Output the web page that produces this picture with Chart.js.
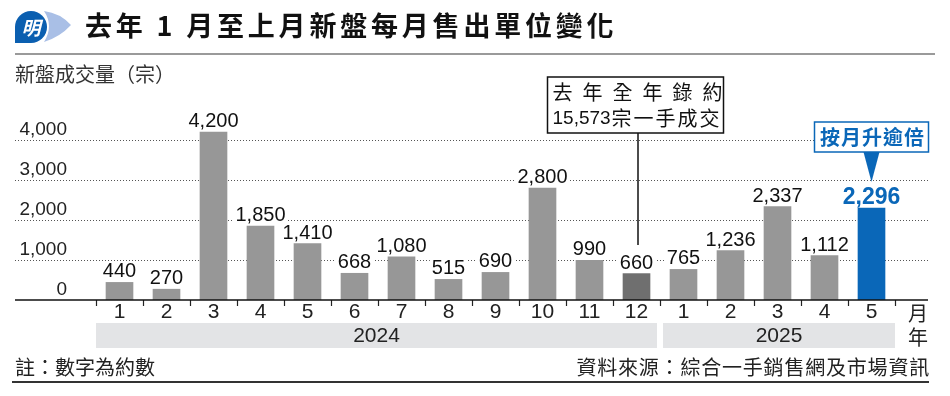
<!DOCTYPE html>
<html>
<head>
<meta charset="utf-8">
<script src="https://cdn.jsdelivr.net/npm/chart.js@4.4.1/dist/chart.umd.min.js"></script>
<style>
  html, body { margin: 0; padding: 0; background: #fff; }
  #wrap { position: relative; width: 950px; height: 396px; overflow: hidden; font-family: "Noto Sans CJK TC", sans-serif; }
  #salesChart { position: absolute; left: 0; top: 0; }
  .logo { position: absolute; left: 13px; top: 8px; }
  .title { position: absolute; left: 85px; top: 7px; font-size: 27px; font-weight: 700; letter-spacing: 3.8px; line-height: 36px; color: #111; white-space: nowrap; }
  .rule { position: absolute; left: 15px; top: 53px; width: 920px; height: 2px; background: #9a9a9a; }
  .unit { position: absolute; left: 15px; top: 62px; font-size: 20px; line-height: 24px; color: #333; }
  .note, .src { position: absolute; top: 355px; font-size: 20px; line-height: 24px; color: #222; white-space: nowrap; }
  .note { left: 15px; }
  .src { right: 20px; letter-spacing: 0.8px; }
  .foot { position: absolute; left: 12px; top: 381px; width: 917px; height: 2px; background: #333; }
</style>
</head>
<body>
<div id="wrap">
  <canvas id="salesChart" width="950" height="396"></canvas>
  <svg class="logo" width="66" height="40" viewBox="0 0 66 40">
    <path d="M31 3 Q47 5 58 17 Q47 29 31 34 Q41 18 31 3 Z" fill="#a9bfe6"/>
    <path d="M2 35 L2 19 A16 16 0 1 1 18 35 Z" fill="#0b5fb0"/>
    <text x="18" y="27" fill="#fff" font-size="19" font-weight="700" font-style="italic" text-anchor="middle" font-family="Noto Sans CJK TC">明</text>
  </svg>
  <div class="title">去年 1 月至上月新盤每月售出單位變化</div>
  <div class="rule"></div>
  <div class="unit">新盤成交量（宗）</div>
  <div class="note">註：數字為約數</div>
  <div class="src">資料來源：綜合一手銷售網及市場資訊</div>
  <div class="foot"></div>
</div>
<script>
  const months = ['1', '2', '3', '4', '5', '6', '7', '8', '9', '10', '11', '12', '1', '2', '3', '4', '5'];
  const sales = [440, 270, 4200, 1850, 1410, 668, 1080, 515, 690, 2800, 990, 660, 765, 1236, 2337, 1112, 2296];
  const yearLabels = ['2024', '2025'];
  const yearMonthCounts = [12, 5];
  const yTicks = [0, 1000, 2000, 3000, 4000];
  const yearTotalNote = ['去年全年錄約', '15,573', '宗一手成交'];
  const highlightNote = '按月升逾倍';

  const GRAY = '#979797';
  const DARK = '#6f6f6f';
  const BLUE = '#0a67b8';
  const lastYearEnd = yearMonthCounts[0] - 1;
  const highlightIndex = sales.length - 1;

  const fmt = v => String(v).replace(/\B(?=(\d{3})+(?!\d))/g, ',');

  const salesFrame = {
    id: 'salesFrame',
    beforeDatasetsDraw(chart) {
      const { ctx, scales: { y } } = chart;
      ctx.save();
      ctx.strokeStyle = '#555';
      ctx.lineWidth = 1;
      ctx.setLineDash([1, 2]);
      yTicks.forEach(v => {
        if (v === 0) return;
        const py = Math.round(y.getPixelForValue(v)) + 0.5;
        ctx.beginPath();
        ctx.moveTo(15, py);
        ctx.lineTo(928, py);
        ctx.stroke();
      });
      ctx.restore();
    },
    afterDatasetsDraw(chart) {
      const { ctx, scales: { x, y } } = chart;
      const bars = chart.getDatasetMeta(0).data;
      const base = y.getPixelForValue(0);
      const half = (x.getPixelForValue(1) - x.getPixelForValue(0)) / 2;
      ctx.save();

      // axis line
      ctx.strokeStyle = '#111';
      ctx.lineWidth = 1.5;
      ctx.beginPath();
      ctx.moveTo(15, base);
      ctx.lineTo(928, base);
      ctx.stroke();

      // value labels with white knockout
      ctx.textAlign = 'center';
      ctx.textBaseline = 'alphabetic';
      bars.forEach((bar, i) => {
        const hi = i === highlightIndex;
        ctx.font = hi ? 'bold 23px "Liberation Sans"' : '20px "Liberation Sans"';
        const label = fmt(sales[i]);
        const w = ctx.measureText(label).width;
        const ty = bar.y - (hi ? 4 : 5);
        ctx.fillStyle = '#fff';
        ctx.fillRect(bar.x - w / 2 - 2, ty - 16, w + 4, 18);
        ctx.fillStyle = hi ? BLUE : '#111';
        ctx.fillText(label, bar.x, ty);
      });

      // year bands
      let start = 0;
      yearLabels.forEach((year, i) => {
        const count = yearMonthCounts[i];
        const left = x.getPixelForValue(start) - half + (i > 0 ? 3 : 0);
        const right = x.getPixelForValue(start + count - 1) + half - (i < yearLabels.length - 1 ? 3 : 0);
        ctx.fillStyle = '#e3e4e6';
        ctx.fillRect(left, base + 23, right - left, 25);
        ctx.fillStyle = '#222';
        ctx.font = '21px "Liberation Sans"';
        ctx.textBaseline = 'middle';
        ctx.fillText(year, (left + right) / 2, base + 36);
        start += count;
      });

      // unit column
      const unitX = x.right + 23;
      ctx.font = '20px "Noto Sans CJK TC"';
      ctx.fillText('月', unitX, base + 13);
      ctx.fillText('年', unitX, base + 37);

      // last year total callout
      const cx = bars[lastYearEnd].x;
      ctx.strokeStyle = '#111';
      ctx.lineWidth = 1.5;
      ctx.beginPath();
      ctx.moveTo(cx + 1.5, 133);
      ctx.lineTo(cx + 1.5, 245);
      ctx.stroke();
      ctx.fillStyle = '#fff';
      ctx.fillRect(cx - 89, 77, 176, 56);
      ctx.strokeRect(cx - 89, 77, 176, 56);
      ctx.fillStyle = '#111';
      ctx.textAlign = 'left';
      ctx.font = '20px "Noto Sans CJK TC"';
      [...yearTotalNote[0]].forEach((ch, i) => ctx.fillText(ch, cx - 84 + i * 30, 92));
      ctx.font = '19px "Liberation Sans"';
      ctx.fillText(yearTotalNote[1], cx - 84, 119);
      const numW = ctx.measureText(yearTotalNote[1]).width;
      ctx.font = '20px "Noto Sans CJK TC"';
      ctx.letterSpacing = '2px';
      ctx.fillText(yearTotalNote[2], cx - 84 + numW + 1, 118);
      ctx.letterSpacing = '0px';

      // month-on-month callout
      const hx = bars[highlightIndex].x;
      ctx.fillStyle = '#fff';
      ctx.fillRect(hx - 57, 122, 114, 30);
      ctx.strokeStyle = BLUE;
      ctx.strokeRect(hx - 57, 122, 114, 30);
      ctx.fillStyle = BLUE;
      ctx.beginPath();
      ctx.moveTo(hx - 8, 152);
      ctx.lineTo(hx + 8, 152);
      ctx.lineTo(hx, 182);
      ctx.closePath();
      ctx.fill();
      ctx.textAlign = 'center';
      ctx.font = 'bold 20px "Noto Sans CJK TC"';
      ctx.letterSpacing = '1px';
      ctx.fillText(highlightNote, hx + 1, 137);
      ctx.letterSpacing = '0px';

      ctx.restore();
    }
  };

  const salesChart = new Chart(document.getElementById('salesChart'), {
    type: 'bar',
    data: {
      labels: months,
      datasets: [{
        data: sales,
        backgroundColor: c => c.dataIndex === highlightIndex ? BLUE : (c.dataIndex === lastYearEnd ? DARK : GRAY),
        barThickness: 27,
        borderWidth: 0
      }]
    },
    options: {
      responsive: false,
      devicePixelRatio: 1,
      animation: false,
      events: [],
      layout: { padding: { left: 0, right: 55, top: 100, bottom: 66 } },
      plugins: { legend: { display: false }, tooltip: { enabled: false } },
      scales: {
        x: {
          offset: true,
          grid: { offset: true, drawOnChartArea: false, drawTicks: true, tickLength: 6, tickColor: '#222', tickWidth: 1.2 },
          border: { display: false },
          ticks: { font: { family: 'Liberation Sans', size: 21 }, color: '#222', padding: -6, maxRotation: 0, autoSkip: false },
          afterFit(scale) { scale.height = 30; }
        },
        y: {
          min: 0,
          max: 5000,
          afterBuildTicks(scale) { scale.ticks = yTicks.map(v => ({ value: v })); },
          grid: { display: false, drawTicks: false },
          border: { display: false },
          ticks: { font: { family: 'Liberation Sans', size: 19 }, color: '#222', padding: 29, labelOffset: -10, callback: v => fmt(v) },
          afterFit(scale) { scale.width = 96; }
        }
      }
    },
    plugins: [salesFrame]
  });
</script>
</body>
</html>
